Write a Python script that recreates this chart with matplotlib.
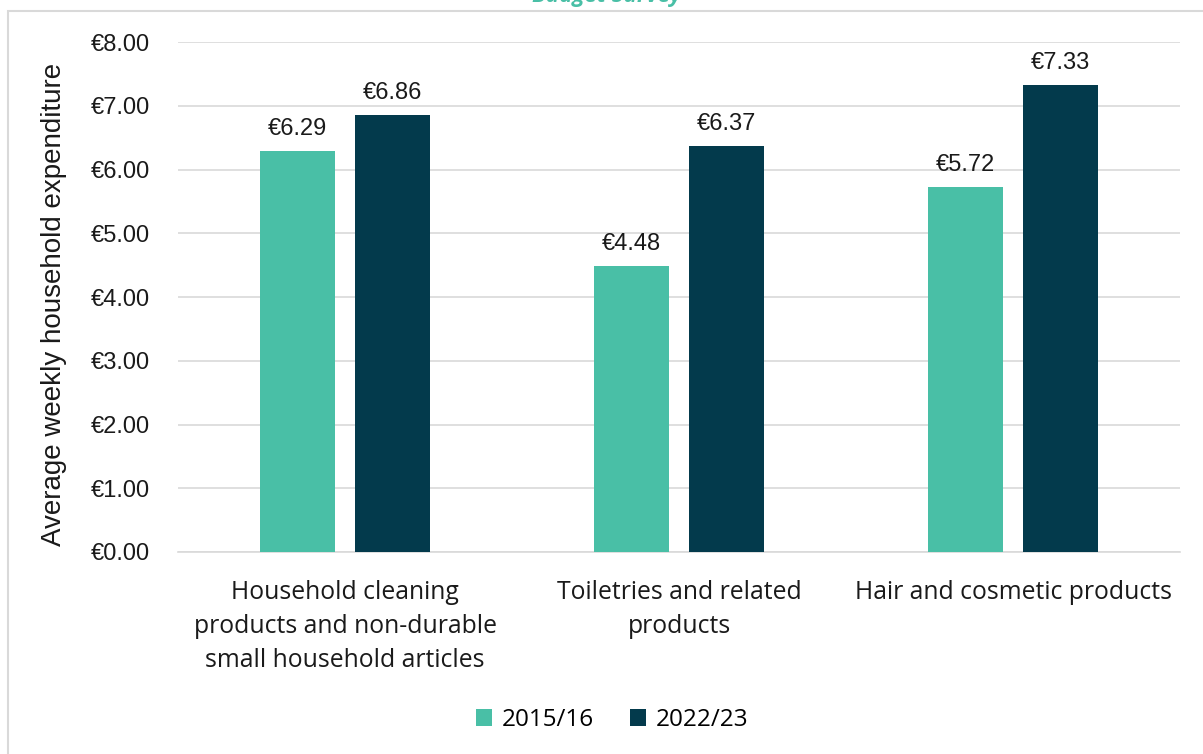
import numpy as np
import matplotlib.pyplot as plt
from matplotlib.patches import Rectangle

plt.rcParams['font.family'] = ['Liberation Sans', 'DejaVu Sans']

categories = ["Household cleaning\nproducts and non-durable\nsmall household articles",
              "Toiletries and related\nproducts",
              "Hair and cosmetic products"]
series_names = ["2015/16", "2022/23"]
values_2015 = [6.29, 4.48, 5.72]
values_2022 = [6.86, 6.37, 7.33]
yticks = [0, 1, 2, 3, 4, 5, 6, 7, 8]

teal = "#49BFA6"
navy = "#033A4C"
ink = "#1A1A1A"
label_font = ['Open Sans', 'DejaVu Sans']

fig = plt.figure(figsize=(12.03, 7.54), dpi=100)
ax = fig.add_axes([0.148, 0.268, 0.833, 0.676])

# chart frame
fig.patches.append(Rectangle((8 / 1203, -0.05), 1.1, 1 - 11 / 754 + 0.05,
                             transform=fig.transFigure, fill=False,
                             edgecolor="#D9D9D9", linewidth=1.5))
fig.text(0.504, 0.997, "Budget Survey", ha="center", va="baseline",
         color=teal, fontsize=16, fontweight="bold", style="italic",
         family=label_font)

x = np.arange(len(categories))
w = 0.224
off = 0.143
b1 = ax.bar(x - off, values_2015, w, color=teal, label=series_names[0], zorder=3)
b2 = ax.bar(x + off, values_2022, w, color=navy, label=series_names[1], zorder=3)

for bars in (b1, b2):
    for rect in bars:
        v = rect.get_height()
        ax.annotate(f"€{v:.2f}", (rect.get_x() + rect.get_width() / 2, v),
                    xytext=(0, 8), textcoords="offset points",
                    ha="center", va="bottom", fontsize=17, color=ink)

ax.set_xlim(-0.5, 2.5)
ax.set_ylim(0, 8)
ax.set_yticks(yticks)
ax.set_yticklabels([f"€{t:.2f}" for t in yticks])
ax.set_xticks(x)
ax.set_xticklabels(categories, linespacing=1.48, family=label_font)
ax.tick_params(axis="y", length=0, pad=20, labelsize=17, labelcolor=ink)
ax.tick_params(axis="x", length=0, pad=20, labelsize=17.8, labelcolor=ink)
ax.grid(axis="y", color="#D9D9D9", linewidth=1.2, zorder=0)
for s in ["top", "right", "left"]:
    ax.spines[s].set_visible(False)
ax.spines["bottom"].set_color("#D9D9D9")
ax.spines["bottom"].set_linewidth(1.2)

ax.set_ylabel("Average weekly household expenditure", fontsize=20, color=ink)
ax.yaxis.set_label_coords(-0.111, 0.485)

fig.legend(handles=[b1, b2], labels=series_names, loc="center",
           bbox_to_anchor=(0.509, 0.045), ncol=2, frameon=False,
           prop={'family': label_font, 'size': 17.5},
           handlelength=0.65, handleheight=0.65,
           handletextpad=0.4, columnspacing=1.5)

fig.savefig("out.png", dpi=100)
